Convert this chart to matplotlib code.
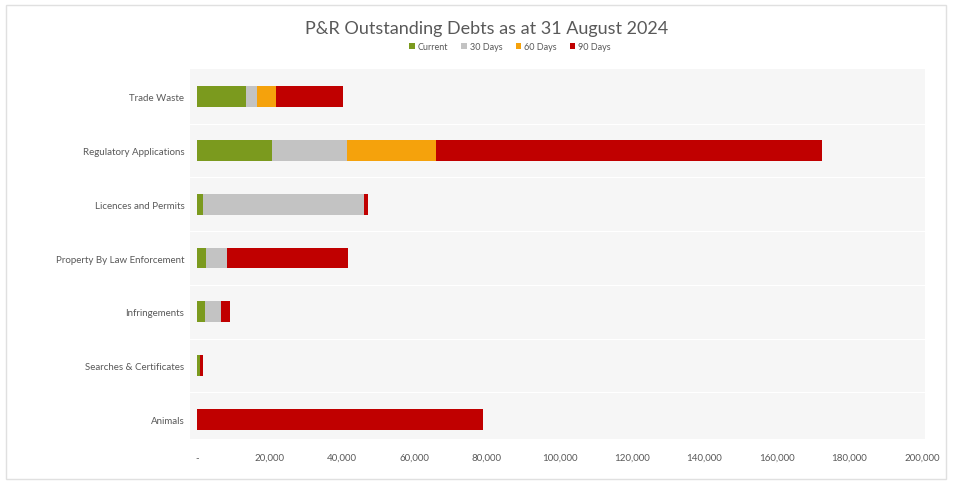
import numpy as np
import matplotlib.pyplot as plt

# outstanding debts by category and age band
categories = ["Trade Waste", "Regulatory Applications", "Licences and Permits",
              "Property By Law Enforcement", "Infringements",
              "Searches & Certificates", "Animals"]
current = [13500, 20600, 1700, 2500, 2200, 800, 0]
days30 = [3000, 20700, 44300, 5800, 4400, 0, 0]
days60 = [5300, 24500, 0, 0, 0, 0, 0]
days90 = [18400, 106600, 1100, 33300, 2500, 900, 78800]
series_names = ["Current", "30 Days", "60 Days", "90 Days"]
xticks = [0, 20000, 40000, 60000, 80000, 100000, 120000, 140000, 160000, 180000, 200000]

colors = ["#7b9a1e", "#c3c3c3", "#f5a20c", "#c00000"]
txt = "#595959"

plt.rcParams['font.family'] = ['Lato', 'DejaVu Sans']

fig = plt.figure(figsize=(9.54, 4.85), dpi=100)
ax = fig.add_axes([190/954, 1-440/485, 735/954, 370/485])
ax.set_facecolor("#f6f6f6")

y = np.arange(len(categories))
left = np.zeros(len(categories))
for name, vals, c in zip(series_names, [current, days30, days60, days90], colors):
    vals = np.array(vals, dtype=float)
    ax.barh(y, vals, left=left, height=0.39, color=c, label=name)
    left += vals

ax.set_xlim(-1931, 200828)
ax.set_ylim(6.37, -0.52)
ax.set_yticks(y)
ax.set_yticklabels(categories, fontsize=7, color=txt)
ax.set_xticks(xticks)
ax.set_xticklabels(["-"] + [f"{v:,}" for v in xticks[1:]], fontsize=7, color=txt)
ax.tick_params(length=0, pad=4)
ax.tick_params(axis='x', pad=10)
for s in ax.spines.values():
    s.set_visible(False)

# light separators between the categories
for yy in y[:-1] + 0.5:
    ax.axhline(yy, color="white", lw=0.8, zorder=0)

fig.text(487/954, 1-29/485, "P&R Outstanding Debts as at 31 August 2024",
         ha="center", va="center", fontsize=13, color=txt)
fig.legend(loc="center", bbox_to_anchor=(510/954, 1-48/485), ncol=4, frameon=False,
           fontsize=6.5, handlelength=0.6, handleheight=0.6, columnspacing=1.5,
           handletextpad=0.3, labelcolor=txt)

# chart frame
fig.add_artist(plt.Rectangle((6/954, 0.01), 940/954, 1-6/485-0.01, transform=fig.transFigure,
                             fill=False, edgecolor="#e0e0e0", lw=1))

fig.savefig("out.png", dpi=100)
